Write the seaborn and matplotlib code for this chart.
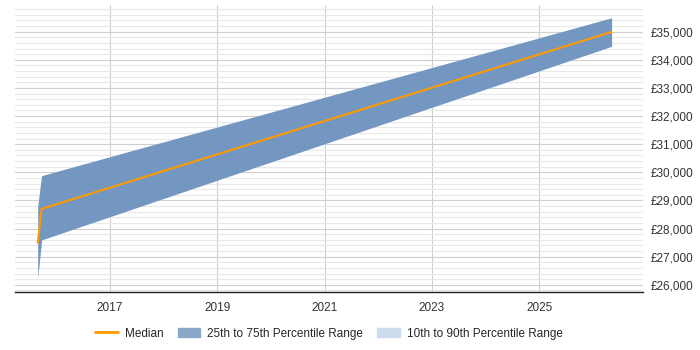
import numpy as np
import pandas as pd
import matplotlib
matplotlib.use("Agg")
import matplotlib.pyplot as plt
import matplotlib.dates as mdates
from matplotlib.ticker import MultipleLocator, FuncFormatter
from matplotlib.patches import Patch
from matplotlib.lines import Line2D
import seaborn as sns

# values
dates = ["2015-08-29", "2015-09-24", "2026-05-08"]
median = [27500, 28700, 34990]
p25 = [26250, 27600, 34480]
p75 = [28790, 29880, 35490]
p10 = [26250, 27600, 34480]
p90 = [28790, 29880, 35490]
year_ticks = ["2017", "2019", "2021", "2023", "2025"]

df = pd.DataFrame({"date": pd.to_datetime(dates), "median": median,
                   "p25": p25, "p75": p75, "p10": p10, "p90": p90})

sns.set_style("white")
plt.rcParams["font.family"] = ["Liberation Sans", "DejaVu Sans"]

fig = plt.figure(figsize=(7, 3.5), dpi=100)
ax = fig.add_axes([0.021, 0.166, 0.898, 0.82])

band_outer = "#ccdcee"
band_inner = "#7397c0"
median_col = "#ff9900"

ax.fill_between(df["date"], df["p10"], df["p90"], color=band_outer, lw=0, zorder=2)
ax.fill_between(df["date"], df["p25"], df["p75"], color=band_inner, lw=0, zorder=3)
sns.lineplot(data=df, x="date", y="median", color=median_col, lw=1.5, ax=ax, zorder=4)

ax.set_xlim(pd.Timestamp("2015-03-25"), pd.Timestamp("2026-12-10"))
ax.set_ylim(25750, 35950)

ax.set_xticks(pd.to_datetime([y + "-01-01" for y in year_ticks]))
ax.xaxis.set_major_formatter(mdates.DateFormatter("%Y"))
ax.yaxis.set_major_locator(MultipleLocator(1000))
ax.yaxis.set_minor_locator(MultipleLocator(200))
ax.yaxis.set_major_formatter(FuncFormatter(lambda v, p: "£{:,.0f}".format(v)))
ax.yaxis.tick_right()

ax.grid(axis="y", which="major", color="#cfcfcf", lw=0.8, zorder=0)
ax.grid(axis="y", which="minor", color="#e8e8e8", lw=0.8, zorder=0)
ax.grid(axis="x", which="major", color="#cfcfcf", lw=0.8, zorder=0)
ax.set_axisbelow(True)

for s in ["top", "left", "right"]:
    ax.spines[s].set_visible(False)
ax.spines["bottom"].set_color("#222222")
ax.spines["bottom"].set_linewidth(1.0)

ax.tick_params(axis="y", which="both", length=0, labelsize=8.5, pad=5, colors="#333333")
ax.tick_params(axis="x", length=4, color="#cfcfcf", labelsize=8.5, pad=3, colors="#333333")
ax.set_xlabel("")
ax.set_ylabel("")

handles = [Line2D([0], [0], color=median_col, lw=2),
           Patch(color="#8aa8c8"),
           Patch(color=band_outer)]
labels = ["Median", "25th to 75th Percentile Range", "10th to 90th Percentile Range"]
fig.legend(handles, labels, loc="center", bbox_to_anchor=(0.47, 0.047), ncol=3,
           frameon=False, fontsize=8.5, handlelength=1.9, handleheight=0.9,
           columnspacing=1.2, handletextpad=0.6)

fig.savefig("out.png", dpi=100)
